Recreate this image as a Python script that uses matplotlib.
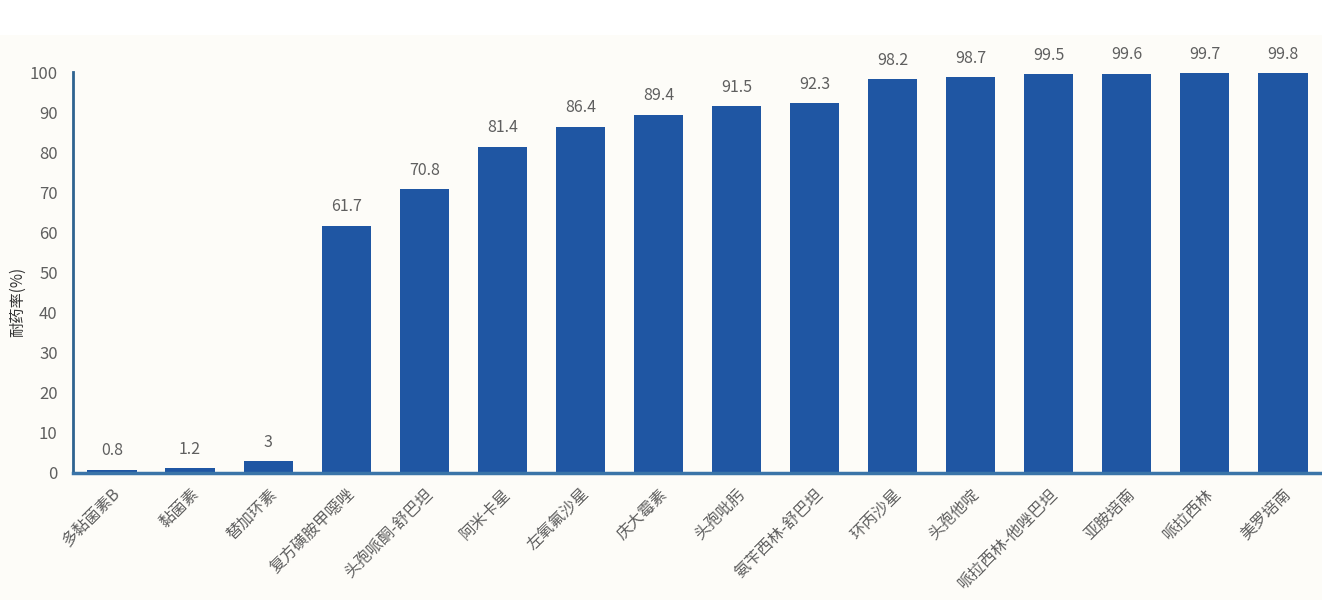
import matplotlib
matplotlib.use('Agg')
import matplotlib.pyplot as plt
import numpy as np

plt.rcParams['font.family'] = ['Noto Sans CJK SC', 'DejaVu Sans']

drugs = ['多黏菌素B', '黏菌素', '替加环素', '复方磺胺甲噁唑', '头孢哌酮-舒巴坦', '阿米卡星',
         '左氧氟沙星', '庆大霉素', '头孢吡肟', '氨苄西林-舒巴坦', '环丙沙星', '头孢他啶',
         '哌拉西林-他唑巴坦', '亚胺培南', '哌拉西林', '美罗培南']
rates = [0.8, 1.2, 3, 61.7, 70.8, 81.4, 86.4, 89.4, 91.5, 92.3, 98.2, 98.7, 99.5, 99.6, 99.7, 99.8]
yticks = list(range(0, 101, 10))

bg = '#fdfcf8'
bar_col = '#1f56a3'
spine_col = '#2e6390'
txt_col = '#5f5f5f'

fig = plt.figure(figsize=(13.22, 6), dpi=100, facecolor=bg)
# white strip along the top edge
fig.patches.append(plt.Rectangle((0, 1 - 35 / 600), 1, 35 / 600, transform=fig.transFigure,
                                 facecolor='white', edgecolor='none', zorder=0))
ax = fig.add_axes([0.0552, 0.2117, 0.9448, 0.668])
ax.set_facecolor(bg)

x = np.arange(len(drugs))
bars = ax.bar(x, rates, width=0.63, color=bar_col, zorder=2)
for b, v in zip(bars, rates):
    ax.text(b.get_x() + b.get_width() / 2, v + 2.6, f'{v:g}', ha='center', va='bottom',
            fontsize=11.5, color=txt_col, clip_on=False)

ax.set_xlim(-0.5, len(drugs) - 0.5)
ax.set_ylim(0, 100)
ax.set_yticks(yticks)
ax.set_xticks(x)
ax.set_xticklabels(drugs, rotation=45, ha='right', rotation_mode='anchor', fontsize=11.5, color=txt_col)
ax.tick_params(axis='y', length=0, pad=11, labelsize=12, labelcolor=txt_col)
ax.tick_params(axis='x', length=0, pad=9)

for s in ['top', 'right']:
    ax.spines[s].set_visible(False)
ax.spines['left'].set_color(spine_col)
ax.spines['left'].set_linewidth(2)
ax.spines['bottom'].set_color('#3a74a8')
ax.spines['bottom'].set_linewidth(2.5)

fig.text(18 / 1322, 0.497, '耐药率(%)', rotation=90, ha='center', va='center',
         fontsize=11, color='#333333')

fig.savefig('out.png', dpi=100, facecolor=bg)
